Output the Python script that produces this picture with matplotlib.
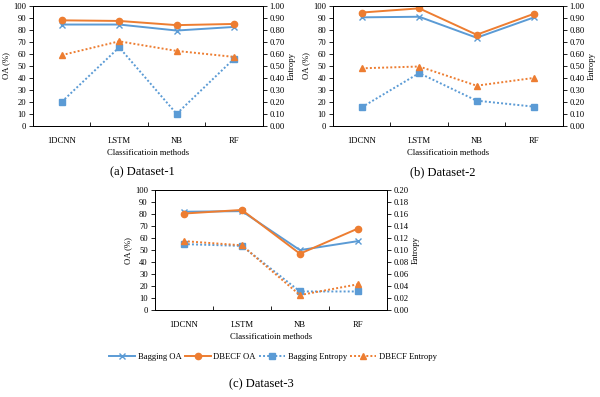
import matplotlib
matplotlib.use("Agg")
import matplotlib.pyplot as plt
from matplotlib.ticker import MultipleLocator, FixedLocator, FormatStrFormatter

plt.rcParams['font.family'] = ['Liberation Serif', 'DejaVu Serif']

methods = ["1DCNN", "LSTM", "NB", "RF"]

# dataset-1
bag_oa_1 = [84.5, 84.5, 79.5, 82.5]
dbecf_oa_1 = [88, 87.5, 84, 85]
bag_ent_1 = [0.20, 0.655, 0.10, 0.56]
dbecf_ent_1 = [0.59, 0.705, 0.625, 0.575]

# dataset-2
bag_oa_2 = [90.5, 91, 73.5, 90.5]
dbecf_oa_2 = [94.5, 98, 76, 93.5]
bag_ent_2 = [0.155, 0.44, 0.21, 0.16]
dbecf_ent_2 = [0.48, 0.495, 0.335, 0.40]

# dataset-3
bag_oa_3 = [82, 82.5, 50, 57.5]
dbecf_oa_3 = [80.5, 83.5, 47, 68]
bag_ent_3 = [0.11, 0.107, 0.031, 0.031]
dbecf_ent_3 = [0.115, 0.108, 0.025, 0.043]

captions = ["(a) Dataset-1", "(b) Dataset-2", "(c) Dataset-3"]

BLUE = "#5B9BD5"
ORANGE = "#ED7D31"
fs = 6.2


def draw(ax, bag_oa, dbecf_oa, bag_ent, dbecf_ent, ent_max, ent_step):
    x = range(len(methods))
    l1, = ax.plot(x, bag_oa, color=BLUE, lw=1.4, marker="x", ms=4.5, mew=1, label="Bagging OA")
    l2, = ax.plot(x, dbecf_oa, color=ORANGE, lw=1.4, marker="o", ms=4.5, label="DBECF OA")
    ax.set_ylim(0, 100)
    ax.set_xlim(-0.5, 3.5)
    ax.yaxis.set_major_locator(MultipleLocator(10))
    ax.set_xticks(list(x))
    ax.set_xticklabels(methods)
    ax.xaxis.set_minor_locator(FixedLocator([0.5, 1.5, 2.5]))
    ax.tick_params(axis="x", which="major", length=0, labelsize=fs, pad=8)
    ax.tick_params(axis="x", which="minor", direction="in", length=3, width=0.6)
    ax.tick_params(axis="y", labelsize=fs, length=3, width=0.6, pad=2)
    ax.set_ylabel("OA (%)", fontsize=fs, labelpad=2)
    ax.set_xlabel("Classificatioin methods", fontsize=fs, labelpad=3)
    for s in ax.spines.values():
        s.set_linewidth(0.7)
    ax2 = ax.twinx()
    l3, = ax2.plot(x, bag_ent, color=BLUE, lw=1.4, ls=(0, (1, 1.1)), marker="s", ms=4.5, label="Bagging Entropy")
    l4, = ax2.plot(x, dbecf_ent, color=ORANGE, lw=1.4, ls=(0, (1, 1.1)), marker="^", ms=4.5, label="DBECF Entropy")
    ax2.set_ylim(0, ent_max)
    ax2.yaxis.set_major_locator(MultipleLocator(ent_step))
    ax2.yaxis.set_major_formatter(FormatStrFormatter("%.2f"))
    ax2.tick_params(axis="y", labelsize=fs, length=3, width=0.6, pad=2)
    ax2.set_ylabel("Entropy", fontsize=fs, labelpad=2)
    for s in ax2.spines.values():
        s.set_linewidth(0.7)
    return [l1, l2, l3, l4]


fig = plt.figure(figsize=(6, 3.97), dpi=100)
ax_a = fig.add_axes([0.055, 0.683, 0.383, 0.302])
ax_b = fig.add_axes([0.555, 0.683, 0.383, 0.302])
ax_c = fig.add_axes([0.258, 0.219, 0.387, 0.302])

draw(ax_a, bag_oa_1, dbecf_oa_1, bag_ent_1, dbecf_ent_1, 1.0, 0.1)
draw(ax_b, bag_oa_2, dbecf_oa_2, bag_ent_2, dbecf_ent_2, 1.0, 0.1)
handles = draw(ax_c, bag_oa_3, dbecf_oa_3, bag_ent_3, dbecf_ent_3, 0.2, 0.02)

fig.legend(handles=handles, loc="center", bbox_to_anchor=(0.455, 0.1), ncol=4,
           fontsize=fs, frameon=False, handlelength=3, columnspacing=0.4, handletextpad=0.3)

fig.text(0.238, 0.565, captions[0], ha="center", va="center", fontsize=9)
fig.text(0.738, 0.565, captions[1], ha="center", va="center", fontsize=9)
fig.text(0.435, 0.032, captions[2], ha="center", va="center", fontsize=9)

fig.savefig("out.png", dpi=100)
